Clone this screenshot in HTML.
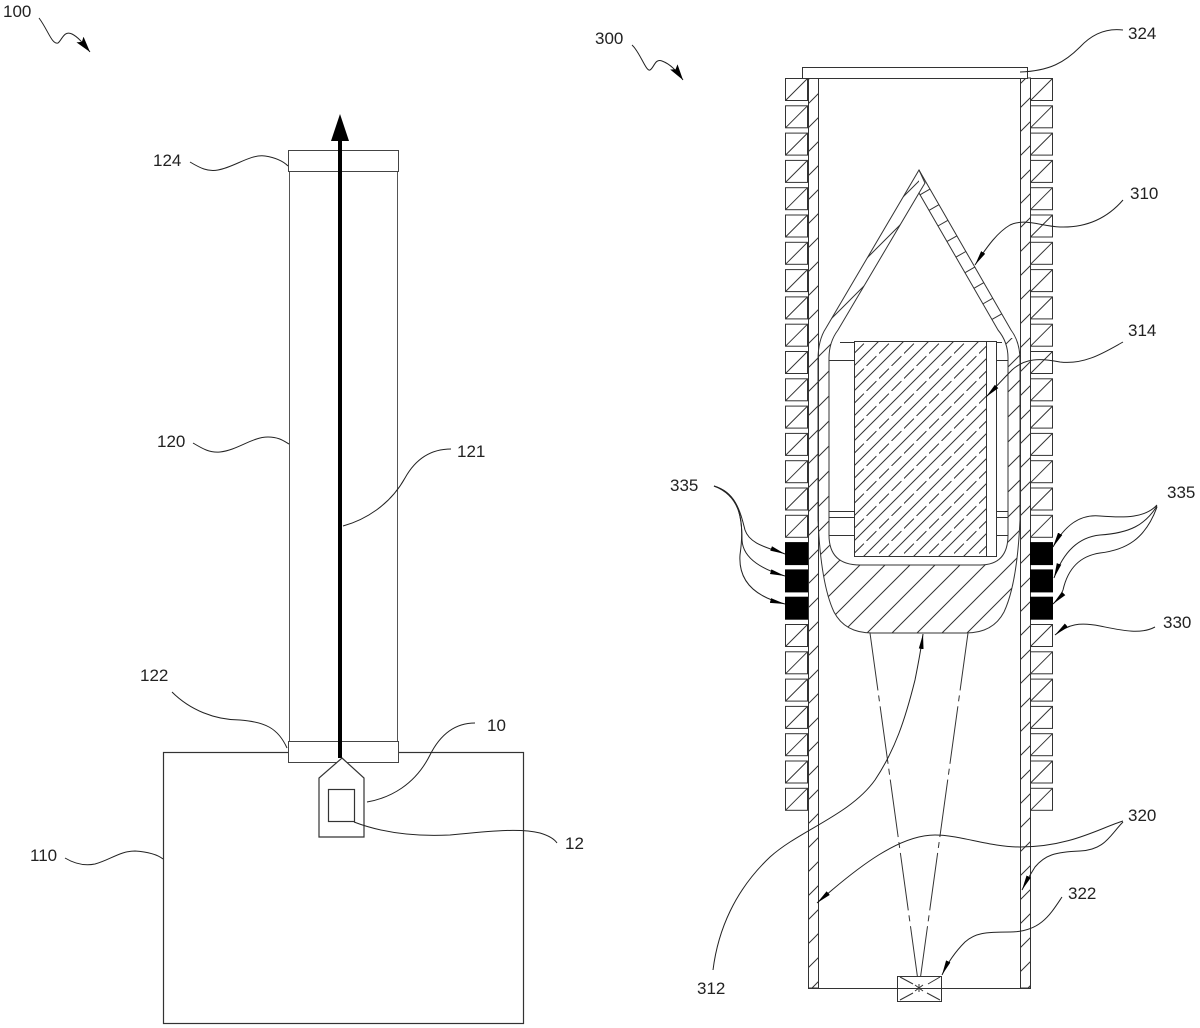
<!DOCTYPE html>
<html>
<head>
<meta charset="utf-8">
<style>
html,body{margin:0;padding:0;background:#fff;}
svg{display:block;}
text{font-family:"Liberation Sans",Arial,sans-serif;font-size:17px;fill:#222;}
</style>
</head>
<body>
<svg width="1200" height="1028" viewBox="0 0 1200 1028" xmlns="http://www.w3.org/2000/svg">
<defs>
  <pattern id="hw" width="24" height="24" patternUnits="userSpaceOnUse">
    <path d="M0,24L24,0M-3,3L3,-3M21,27L27,21" stroke="#333" stroke-width="1" fill="none"/>
  </pattern>
  <pattern id="hc" width="25" height="25" patternUnits="userSpaceOnUse">
    <path d="M0,25L25,0M-3,3L3,-3M22,28L28,22" stroke="#333" stroke-width="1" fill="none"/>
  </pattern>
  <pattern id="hx" width="25" height="25" patternUnits="userSpaceOnUse" x="854" y="341">
    <path d="M0,25L25,0M-3,3L3,-3M22,28L28,22" stroke="#333" stroke-width="1" fill="none"/>
    <path d="M0,12.5L12.5,0M12.5,25L25,12.5" stroke="#333" stroke-width="1" stroke-dasharray="14 11" fill="none"/>
  </pattern>
  <marker id="ar" markerUnits="userSpaceOnUse" markerWidth="16" markerHeight="7" refX="15" refY="3" orient="auto">
    <path d="M0,0.6L15,3L0,5.4Z" fill="#000"/>
  </marker>
  <marker id="ab" markerUnits="userSpaceOnUse" markerWidth="18" markerHeight="10" refX="16" refY="4.5" orient="auto">
    <path d="M0,0L16,4.5L0,9L3,4.5Z" fill="#000"/>
  </marker>
  <g id="b">
    <rect x="0.5" y="0.5" width="22" height="22" fill="#fff" stroke="#333" stroke-width="1"/>
    <path d="M1,22L22,1" stroke="#333" stroke-width="1"/>
  </g>
  <g id="k">
    <rect x="0.5" y="0.5" width="22" height="22" fill="#000" stroke="#000" stroke-width="1"/>
  </g>
  <clipPath id="cp">
    <polygon points="700,0 919,0 919,338 1100,338 1100,720 700,720"/>
  </clipPath>
</defs>

<rect width="1200" height="1028" fill="#fff"/>

<!-- ================= LEFT FIGURE 100 ================= -->
<text x="3" y="17">100</text>
<path d="M39,18 C48,30 52,45 58,43 C62,40 64,30 72,34 C78,37 82,42 90,52" fill="none" stroke="#222" stroke-width="1" marker-end="url(#ab)"/>

<rect x="163.5" y="752.5" width="360" height="271" fill="none" stroke="#333" stroke-width="1.2"/>
<line x1="289.5" y1="171" x2="289.5" y2="741" stroke="#555" stroke-width="1"/>
<line x1="397.5" y1="171" x2="397.5" y2="741" stroke="#555" stroke-width="1"/>
<rect x="288.5" y="150.5" width="110" height="21" fill="#fff" stroke="#444" stroke-width="1"/>
<rect x="288.5" y="741.5" width="110" height="21" fill="#fff" stroke="#444" stroke-width="1"/>
<line x1="340" y1="138" x2="340" y2="758" stroke="#000" stroke-width="4"/>
<polygon points="340,114 331,141 349,141" fill="#000"/>
<polygon points="342,758 364,778 364,837 319,837 319,778" fill="#fff" stroke="#333" stroke-width="1.2"/>
<rect x="328.5" y="789.5" width="26" height="32" fill="#fff" stroke="#333" stroke-width="1.2"/>

<text x="153" y="166">124</text>
<path d="M190,162 C200,168 208,172 218,170 C235,167 250,154 265,156 C278,158 284,162 288,166" fill="none" stroke="#222" stroke-width="1"/>
<text x="157" y="447">120</text>
<path d="M193,443 C203,449 210,453 220,452 C238,450 252,437 268,437 C280,437 285,442 289,444" fill="none" stroke="#222" stroke-width="1"/>
<text x="457" y="457">121</text>
<path d="M451,449 C430,449 415,460 405,478 C390,505 365,520 343,526" fill="none" stroke="#222" stroke-width="1"/>
<text x="140" y="681">122</text>
<path d="M172,692 C190,710 215,720 240,720 C265,722 278,728 287,748" fill="none" stroke="#222" stroke-width="1"/>
<text x="487" y="731">10</text>
<path d="M475,723 C455,723 440,735 430,755 C415,785 390,798 367,802" fill="none" stroke="#222" stroke-width="1"/>
<text x="565" y="849">12</text>
<path d="M354,822 C380,832 410,837 450,835 C490,831 520,828 540,833 C550,836 555,840 557,843" fill="none" stroke="#222" stroke-width="1"/>
<text x="30" y="861">110</text>
<path d="M65,858 C75,864 85,866 95,864 C110,860 120,851 135,851 C150,852 158,855 163,859" fill="none" stroke="#222" stroke-width="1"/>

<!-- ================= RIGHT FIGURE 300 ================= -->
<text x="595" y="44">300</text>
<path d="M632,45 C640,52 646,72 650,70 C654,68 655,58 662,61 C670,64 676,70 683,80" fill="none" stroke="#222" stroke-width="1" marker-end="url(#ab)"/>

<rect x="808.5" y="78" width="10" height="910" fill="url(#hw)" stroke="#333" stroke-width="1"/>
<rect x="1020.5" y="78" width="10" height="910" fill="url(#hw)" stroke="#333" stroke-width="1"/>
<line x1="808" y1="988.5" x2="1031" y2="988.5" stroke="#333" stroke-width="1"/>
<rect x="802.5" y="67.5" width="225" height="11" fill="#fff" stroke="#333" stroke-width="1"/>

<use href="#b" x="785" y="78"/>
<use href="#b" x="785" y="105.3"/>
<use href="#b" x="785" y="132.6"/>
<use href="#b" x="785" y="159.9"/>
<use href="#b" x="785" y="187.2"/>
<use href="#b" x="785" y="214.5"/>
<use href="#b" x="785" y="241.8"/>
<use href="#b" x="785" y="269.1"/>
<use href="#b" x="785" y="296.4"/>
<use href="#b" x="785" y="323.7"/>
<use href="#b" x="785" y="351"/>
<use href="#b" x="785" y="378.3"/>
<use href="#b" x="785" y="405.6"/>
<use href="#b" x="785" y="432.9"/>
<use href="#b" x="785" y="460.2"/>
<use href="#b" x="785" y="487.5"/>
<use href="#b" x="785" y="514.8"/>
<use href="#k" x="785" y="542.1"/>
<use href="#k" x="785" y="569.4"/>
<use href="#k" x="785" y="596.7"/>
<use href="#b" x="785" y="624"/>
<use href="#b" x="785" y="651.3"/>
<use href="#b" x="785" y="678.6"/>
<use href="#b" x="785" y="705.9"/>
<use href="#b" x="785" y="733.2"/>
<use href="#b" x="785" y="760.5"/>
<use href="#b" x="785" y="787.8"/>
<use href="#b" x="1030" y="78"/>
<use href="#b" x="1030" y="105.3"/>
<use href="#b" x="1030" y="132.6"/>
<use href="#b" x="1030" y="159.9"/>
<use href="#b" x="1030" y="187.2"/>
<use href="#b" x="1030" y="214.5"/>
<use href="#b" x="1030" y="241.8"/>
<use href="#b" x="1030" y="269.1"/>
<use href="#b" x="1030" y="296.4"/>
<use href="#b" x="1030" y="323.7"/>
<use href="#b" x="1030" y="351"/>
<use href="#b" x="1030" y="378.3"/>
<use href="#b" x="1030" y="405.6"/>
<use href="#b" x="1030" y="432.9"/>
<use href="#b" x="1030" y="460.2"/>
<use href="#b" x="1030" y="487.5"/>
<use href="#b" x="1030" y="514.8"/>
<use href="#k" x="1030" y="542.1"/>
<use href="#k" x="1030" y="569.4"/>
<use href="#k" x="1030" y="596.7"/>
<use href="#b" x="1030" y="624"/>
<use href="#b" x="1030" y="651.3"/>
<use href="#b" x="1030" y="678.6"/>
<use href="#b" x="1030" y="705.9"/>
<use href="#b" x="1030" y="733.2"/>
<use href="#b" x="1030" y="760.5"/>
<use href="#b" x="1030" y="787.8"/>

<path fill-rule="evenodd" clip-path="url(#cp)" fill="url(#hc)" stroke="none"
 d="M919,170 L826,328 Q818,340 818,360 L818,520 C820,565 826,595 834,612 Q845,633 872,633 L966,633 Q993,633 1004,612 C1012,595 1018,565 1020,520 L1020,360 Q1020,342 1011,330 Z
    M919,193 L838,330 Q829,342 829,358 L829,535 Q829,565 860,565 L980,565 Q1008,565 1008,535 L1008,358 Q1008,342 998,330 Z"/>
<path fill="none" stroke="#333" stroke-width="1"
 d="M919,170 L826,328 Q818,340 818,360 L818,520 C820,565 826,595 834,612 Q845,633 872,633 L966,633 Q993,633 1004,612 C1012,595 1018,565 1020,520 L1020,360 Q1020,342 1011,330 Z"/>
<path fill="#fff" stroke="#333" stroke-width="1"
 d="M919,193 L838,330 Q829,342 829,358 L829,535 Q829,565 860,565 L980,565 Q1008,565 1008,535 L1008,358 Q1008,342 998,330 Z"/>
<path stroke="#333" stroke-width="1" fill="none"
 d="M930,189.1L920,194.8 M938.9,204.7L928.9,210.4 M947.9,220.3L937.9,226 M956.8,235.9L946.8,241.6 M965.8,251.5L955.8,257.2 M974.8,267.1L964.8,272.8 M983.7,282.7L973.7,288.4 M992.7,298.3L982.7,304 M1001.7,313.9L991.7,319.6"/>
<path d="M919,170 L925,183 L919,193" fill="none" stroke="#333" stroke-width="1"/>

<rect x="854.5" y="341.5" width="132" height="215" fill="url(#hx)" stroke="#333" stroke-width="1"/>
<rect x="986.5" y="341.5" width="10" height="215" fill="#fff" stroke="#333" stroke-width="1"/>
<path stroke="#333" stroke-width="1" fill="none"
 d="M840,342.5L854,342.5 M829,360.5L854,360.5 M829,511.5L854,511.5 M829,517.5L854,517.5 M829,535.5L854,535.5
    M996,342.5L1002,342.5 M996,360.5L1008,360.5 M996,511.5L1008,511.5 M996,517.5L1008,517.5 M996,535.5L1008,535.5"/>

<path d="M870,633 L919,988 M968,633 L919,988" fill="none" stroke="#333" stroke-width="1" stroke-dasharray="58 5 6 5"/>
<rect x="897.5" y="976.5" width="44" height="25" fill="#fff" stroke="#333" stroke-width="1"/>
<line x1="897" y1="988.5" x2="942" y2="988.5" stroke="#333" stroke-width="1"/>
<path d="M900,977L913,984 M928,984L940,977 M900,1000L913,993 M927,993L940,1000 M915,985L923,991 M923,985L915,991 M919,984L919,992" stroke="#333" stroke-width="1" fill="none"/>

<text x="1128" y="39">324</text>
<path d="M1123,30 C1107,28 1093,33 1080,47 C1065,62 1050,71 1020,72" fill="none" stroke="#222" stroke-width="1"/>
<text x="1130" y="199">310</text>
<path d="M1123,200 C1110,215 1090,228 1060,227 C1040,226 1025,218 1010,225 C998,232 988,245 975,265" fill="none" stroke="#222" stroke-width="1" marker-end="url(#ar)"/>
<text x="1128" y="336">314</text>
<path d="M1123,342 C1105,352 1085,365 1060,362 C1040,358 1025,358 1012,370 C1002,380 995,388 986,397" fill="none" stroke="#222" stroke-width="1" marker-end="url(#ar)"/>

<text x="670" y="491">335</text>
<path d="M714,486 C735,492 740,510 745,530 C750,545 770,548 785,554" fill="none" stroke="#222" stroke-width="1" marker-end="url(#ar)"/>
<path d="M714,486 C738,494 742,515 742,540 C743,560 765,570 785,576" fill="none" stroke="#222" stroke-width="1" marker-end="url(#ar)"/>
<path d="M714,486 C740,496 745,520 740,555 C738,585 760,598 785,604" fill="none" stroke="#222" stroke-width="1" marker-end="url(#ar)"/>

<text x="1167" y="498">335</text>
<path d="M1157,505 C1145,518 1125,518 1100,516 C1080,514 1065,525 1053,547" fill="none" stroke="#222" stroke-width="1" marker-end="url(#ar)"/>
<path d="M1157,506 C1145,525 1130,533 1100,535 C1080,537 1064,550 1054,578" fill="none" stroke="#222" stroke-width="1" marker-end="url(#ar)"/>
<path d="M1157,507 C1145,540 1125,550 1100,553 C1080,556 1068,568 1063,590 C1060,598 1056,601 1053,604" fill="none" stroke="#222" stroke-width="1" marker-end="url(#ar)"/>

<text x="1163" y="628">330</text>
<path d="M1155,627 C1140,635 1120,630 1100,626 C1080,622 1068,624 1055,635" fill="none" stroke="#222" stroke-width="1" marker-end="url(#ar)"/>

<text x="1128" y="821">320</text>
<path d="M1123,821 C1100,828 1070,847 1020,847 C990,847 960,835 935,835 C900,835 860,865 817,903" fill="none" stroke="#222" stroke-width="1" marker-end="url(#ar)"/>
<path d="M1123,822 C1110,835 1105,850 1080,851 C1055,852 1045,855 1035,867 C1030,875 1026,882 1022,890" fill="none" stroke="#222" stroke-width="1" marker-end="url(#ar)"/>

<text x="1068" y="899">322</text>
<path d="M1062,897 C1050,915 1040,932 1010,932 C985,932 975,933 965,942 C955,952 948,962 942,975" fill="none" stroke="#222" stroke-width="1" marker-end="url(#ar)"/>

<text x="697" y="994">312</text>
<path d="M713,970 C718,930 735,890 770,857 C800,830 850,815 875,780 C895,750 905,720 915,680 C918,665 921,650 923,634" fill="none" stroke="#222" stroke-width="1" marker-end="url(#ar)"/>
</svg>
</body>
</html>
